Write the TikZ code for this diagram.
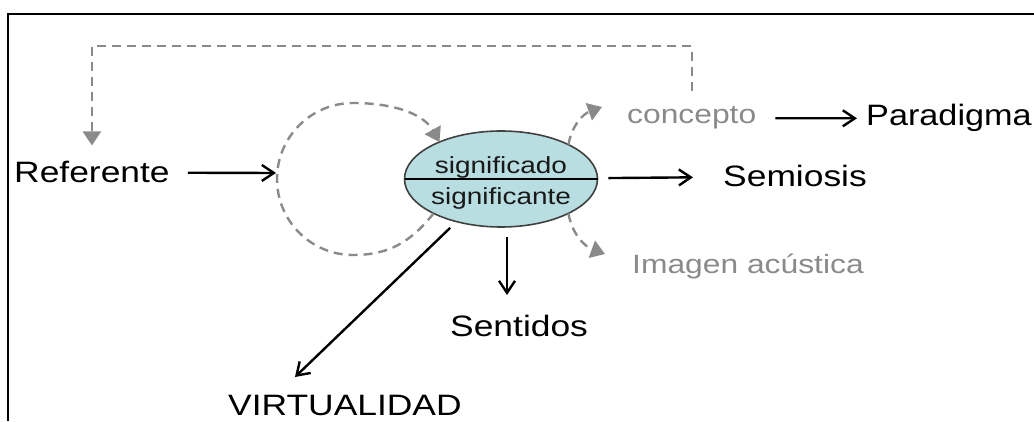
\documentclass[tikz,border=0pt]{standalone}
\usepackage{fontspec}
\setmainfont{Liberation Sans}
\usepackage{graphicx}
\usepackage{tikz}
\usetikzlibrary{shapes, arrows.meta}
\definecolor{sigblue}{RGB}{185,222,226}
\definecolor{fbgray}{RGB}{138,138,138}
\newcommand{\xwide}[1]{\scalebox{1.2}[1]{#1}}
\tikzstyle{lbl} = [inner sep = 0pt, anchor = base west, font = \fontsize{29.5}{34}\selectfont]
\tikzstyle{glbl} = [lbl, text = fbgray, font = \fontsize{26.5}{31}\selectfont]
\tikzstyle{stxt} = [inner sep = 0pt, anchor = base, text = black!90, font = \fontsize{23.3}{28}\selectfont]
\tikzstyle{enode} = [ellipse, draw = black!75, line width = 1.6pt, fill = sigblue, minimum width = 193pt, minimum height = 96pt, inner sep = 0pt, outer sep = 0pt]
\tikzstyle{arr} = [draw, line width = 2.4pt, -{Straight Barb[length = 12pt, width = 16pt]}]
\tikzstyle{fb} = [draw = fbgray, line width = 2.4pt, dash pattern = on 9pt off 6pt, -{Triangle[length = 14pt, width = 18pt]}]

\begin{document}
\begin{tikzpicture}[x = 1pt, y = 1pt]
	\useasboundingbox (0,0) rectangle (1034,421);
	\path [draw, line width = 2pt] (8,0) -- (8,407) -- (1034,407);

	\node [enode] (sig) at (501,242) {};
	\path [draw, line width = 2.2pt] (sig.west) -- (sig.east);
	\node [stxt] (sdo) at (501,247) {\xwide{significado}};
	\node [stxt] (ste) at (501,216) {\xwide{significante}};

	\node [lbl] (ref) at (14,238) {\xwide{Referente}};
	\node [lbl] (sem) at (723,234) {\xwide{Semiosis}};
	\node [lbl] (par) at (866,295) {\scalebox{1.16}[1]{Paradigma}};
	\node [lbl] (sen) at (450,85) {\xwide{Sentidos}};
	\node [lbl] (vir) at (228,6) {\xwide{VIRTUALIDAD}};
	\node [glbl] (con) at (627,297) {\xwide{concepto}};
	\node [glbl] (img) at (632,147) {\xwide{Imagen acústica}};

	\coordinate (loopw) at (276,248);
	\coordinate (loopb) at (353,166);
	\coordinate (top) at (0,375);
	\coordinate (ctip) at (602,314);
	\coordinate (itip) at (605,167);
	\coordinate (stip) at (507,126);
	\coordinate (vtip) at (295,44);

	\path [arr, shorten <= 18pt] (ref) -- (loopw);
	\path [arr, shorten <= 11pt, shorten >= 30pt] (sig) -- (sem);
	\path [arr, shorten <= 19pt, shorten >= 9pt] (con) -- (par);
	\path [arr, shorten <= 10pt] (sig.south -| stip) -- (stip);
	\path [arr, shorten <= 9pt] (sig) -- (vtip);

	\path [fb, shorten <= 16pt, shorten >= 16pt] (con.north) -- (con.north |- top) -| (ref.north);
	\path [fb] (sig.27) to [out = 80, in = 200] (ctip);
	\path [fb] (sig.-27) to [out = -80, in = 160] (itip);
	\path [fb] (sig.207) .. controls (410,178) and (388,166) .. (loopb) arc [start angle = 270, end angle = 90, radius = 76] .. controls (398,318) and (425,305) .. (sig.149);
\end{tikzpicture}
\end{document}
